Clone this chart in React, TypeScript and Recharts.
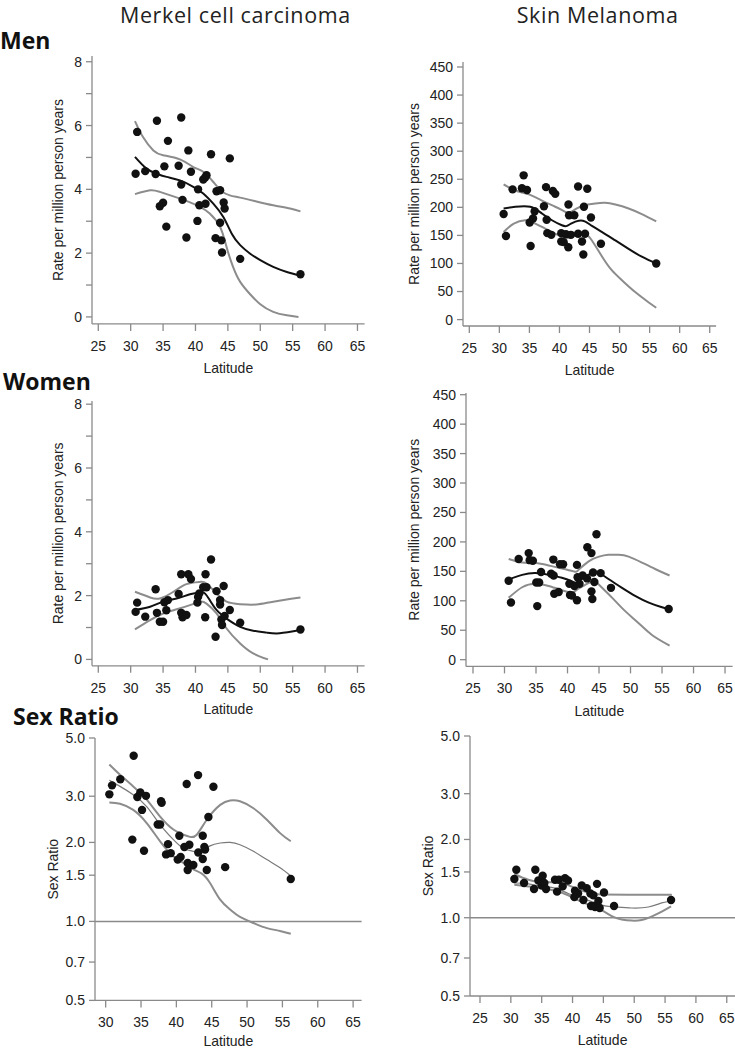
import React from 'react';
import { ComposedChart, Line, Scatter, XAxis, YAxis, ReferenceLine } from 'recharts';

type Pair = [number, number];

// ---------- Column / row titles ----------
const columnTitles = ['Merkel cell carcinoma', 'Skin Melanoma'];
const rowTitles = ['Men', 'Women', 'Sex Ratio'];
const rateLabel = 'Rate per million person years';
const ratioLabel = 'Sex Ratio';
const xLabel = 'Latitude';

// ---------- Tick values ----------
const latTicks = [25, 30, 35, 40, 45, 50, 55, 60, 65];
const latTicksRatio = [30, 35, 40, 45, 50, 55, 60, 65];
const mccRateTicks = [0, 1, 2, 3, 4, 5, 6, 7, 8];
const melRateTicks = [0, 50, 100, 150, 200, 250, 300, 350, 400, 450];
const ratioTicks = [0.5, 0.7, 1.0, 1.5, 2.0, 3.0, 5.0];

// ---------- Merkel cell carcinoma, men ----------
const mccMenPoints: Pair[] = [
  [30.76, 4.49], [31.0, 5.8], [32.25, 4.57], [33.85, 4.48], [34.05, 6.15], [34.5, 3.47], [35.0, 3.58],
  [35.2, 4.72], [35.5, 2.83], [35.75, 5.52], [37.4, 4.74], [37.8, 6.25], [37.8, 4.15], [38.0, 3.67],
  [38.6, 2.49], [38.9, 5.22], [39.3, 4.55], [40.3, 3.01], [40.4, 4.0], [40.6, 3.5], [41.2, 4.31],
  [41.5, 4.37], [41.7, 4.44], [41.55, 3.55], [42.4, 5.1], [43.1, 2.47], [43.25, 3.94], [43.8, 3.97],
  [43.8, 2.95], [44.0, 2.4], [44.1, 2.02], [44.35, 3.59], [44.5, 3.4], [45.3, 4.97], [46.9, 1.82], [56.2, 1.34],
];
const mccMenFit: Pair[] = [
  [30.66, 5.02], [32.46, 4.65], [34.0, 4.49], [35.55, 4.39], [37.6, 4.28], [39.66, 4.08], [41.2, 3.87],
  [42.75, 3.55], [44.3, 3.13], [45.6, 2.61], [46.9, 2.25], [48.4, 1.99], [50.0, 1.78], [52.0, 1.57],
  [54.1, 1.41], [56.1, 1.3],
];
const mccMenUpper: Pair[] = [
  [30.66, 6.14], [31.9, 5.64], [33.5, 5.22], [35.0, 5.07], [37.6, 4.94], [39.66, 4.7], [41.2, 4.55],
  [42.75, 4.23], [44.0, 3.95], [45.3, 3.81], [46.9, 3.74], [49.4, 3.62], [52.0, 3.5], [54.6, 3.4], [56.2, 3.31],
];
const mccMenLower: Pair[] = [
  [30.66, 3.85], [33.0, 3.97], [34.5, 3.92], [36.6, 3.78], [38.6, 3.64], [40.7, 3.45], [42.2, 3.24],
  [43.8, 2.82], [44.8, 2.19], [45.8, 1.57], [46.9, 1.1], [48.4, 0.72], [50.0, 0.4], [52.0, 0.16],
  [54.1, 0.05], [55.9, 0.0],
];

// ---------- Skin melanoma, men ----------
const melMenPoints: Pair[] = [
  [30.71, 188], [31.1, 149], [32.2, 232], [33.76, 234], [34.04, 257], [34.6, 231], [35.04, 173], [35.2, 131],
  [35.6, 180], [35.87, 193], [37.42, 202], [37.76, 236], [37.87, 178], [37.98, 154], [38.64, 151], [38.9, 229],
  [39.3, 224], [40.3, 154], [40.3, 139], [40.7, 138], [41.08, 152], [41.47, 129], [41.5, 205], [41.6, 186],
  [41.9, 151], [42.47, 186], [43.1, 237], [43.1, 153], [43.75, 139], [43.97, 116], [44.07, 201], [44.25, 153],
  [44.63, 233], [45.24, 182], [46.9, 135], [56.1, 100],
];
const melMenFit: Pair[] = [
  [30.71, 198], [32.65, 201], [35.15, 201], [37.09, 189], [38.75, 177], [40.4, 168], [41.25, 167], [42.1, 172],
  [43.2, 176], [44.2, 175], [45.4, 167], [47.1, 156], [49.3, 141], [51.5, 126], [53.7, 112], [56.1, 100],
];
const melMenUpper: Pair[] = [
  [30.71, 241], [32.65, 230], [34.9, 223], [37.09, 212], [39.3, 201], [40.97, 192], [41.8, 191], [42.9, 198],
  [44.3, 204], [45.97, 207], [47.6, 208], [49.3, 205], [51.5, 198], [53.7, 188], [56.1, 175],
];
const melMenLower: Pair[] = [
  [30.71, 156], [32.4, 171], [34.3, 177], [35.4, 174], [37.09, 165], [38.75, 156], [40.4, 148], [41.5, 146],
  [42.9, 150], [44.2, 153], [45.4, 141], [47.1, 112], [48.7, 88], [50.4, 70], [52.6, 49], [54.8, 31], [56.1, 21],
];

// ---------- Merkel cell carcinoma, women ----------
const mccWomenPoints: Pair[] = [
  [30.76, 1.49], [31.0, 1.78], [32.25, 1.34], [33.85, 2.2], [34.05, 1.46], [34.5, 1.18], [35.0, 1.18],
  [35.2, 1.79], [35.5, 1.54], [35.75, 1.86], [37.4, 2.05], [37.8, 2.67], [37.8, 1.46], [38.0, 1.32],
  [38.6, 1.39], [38.9, 2.67], [39.3, 2.52], [40.3, 1.78], [40.4, 1.96], [40.6, 2.07], [41.2, 2.26],
  [41.5, 1.32], [41.55, 2.67], [41.7, 2.26], [42.4, 3.13], [43.1, 0.71], [43.25, 2.14], [43.8, 1.86],
  [43.8, 1.72], [44.0, 1.25], [44.1, 1.08], [44.35, 2.3], [44.5, 1.36], [45.3, 1.55], [46.9, 1.15], [56.2, 0.94],
];
const mccWomenFit: Pair[] = [
  [30.66, 1.55], [33.0, 1.65], [35.0, 1.81], [37.1, 1.91], [39.15, 2.04], [40.7, 2.1], [41.45, 2.07],
  [42.2, 1.86], [43.25, 1.55], [44.8, 1.28], [46.9, 1.02], [48.9, 0.9], [51.0, 0.84], [53.0, 0.82], [56.2, 0.92],
];
const mccWomenUpper: Pair[] = [
  [30.66, 2.12], [33.0, 1.94], [34.5, 1.91], [36.6, 2.12], [38.6, 2.36], [40.7, 2.43], [41.7, 2.38],
  [43.25, 2.07], [44.8, 1.81], [46.9, 1.73], [49.4, 1.72], [52.0, 1.81], [56.2, 1.94],
];
const mccWomenLower: Pair[] = [
  [30.66, 0.94], [33.0, 1.23], [35.0, 1.44], [37.1, 1.57], [39.15, 1.7], [40.7, 1.81], [41.7, 1.75],
  [43.25, 1.44], [44.8, 0.97], [46.9, 0.5], [48.9, 0.19], [51.2, 0.0],
];

// ---------- Skin melanoma, women ----------
const melWomenPoints: Pair[] = [
  [30.66, 134], [31.03, 97], [32.25, 171], [33.84, 181], [34.0, 169], [34.5, 168], [35.05, 131], [35.2, 91],
  [35.5, 131], [35.8, 149], [37.4, 146], [37.75, 170], [37.8, 143], [37.9, 112], [38.6, 115], [38.8, 162],
  [39.3, 162], [40.3, 129], [40.4, 110], [40.7, 109], [41.1, 125], [41.5, 161], [41.5, 101], [41.6, 140],
  [41.9, 129], [42.4, 143], [43.1, 138], [43.15, 191], [43.8, 181], [43.8, 116], [43.94, 103], [44.05, 148],
  [44.26, 132], [44.6, 213], [45.26, 147], [46.9, 122], [56.06, 86],
];
const melWomenFit: Pair[] = [
  [30.66, 136], [32.8, 144], [34.9, 147], [37.0, 144], [39.1, 139], [40.7, 133], [41.5, 131], [42.6, 140],
  [43.9, 147], [45.0, 147], [46.5, 137], [48.65, 122], [50.8, 108], [52.9, 97], [55.0, 89], [56.06, 86],
];
const melWomenUpper: Pair[] = [
  [30.66, 171], [32.8, 165], [34.9, 164], [37.0, 160], [39.1, 155], [40.98, 150], [41.7, 152], [43.36, 167],
  [45.0, 175], [46.5, 178], [48.1, 178], [49.7, 175], [51.8, 165], [53.9, 154], [56.2, 143],
];
const melWomenLower: Pair[] = [
  [30.66, 105], [32.8, 123], [34.9, 129], [37.0, 125], [39.1, 118], [40.7, 114], [41.5, 119], [42.8, 127],
  [44.15, 133], [45.2, 125], [47.1, 105], [49.2, 82], [51.3, 62], [53.4, 42], [56.2, 24],
];

// ---------- Merkel cell carcinoma, sex ratio ----------
const mccRatioPoints: Pair[] = [
  [30.52, 3.05], [30.9, 3.3], [32.07, 3.48], [33.77, 2.05], [33.96, 4.28], [34.48, 2.98], [34.9, 3.1],
  [35.14, 2.66], [35.42, 1.86], [35.7, 3.01], [37.36, 2.34], [37.7, 2.34], [37.83, 2.87], [37.92, 2.83],
  [38.54, 1.8], [38.82, 1.97], [39.2, 1.82], [40.19, 1.72], [40.42, 2.12], [40.6, 1.76], [41.13, 1.92],
  [41.46, 3.34], [41.6, 1.67], [41.6, 1.57], [41.84, 1.96], [42.4, 1.64], [43.07, 3.61], [43.1, 1.83],
  [43.73, 2.12], [43.73, 1.73], [43.96, 1.92], [44.06, 1.88], [44.3, 1.57], [44.53, 2.5], [45.24, 3.26],
  [46.9, 1.61], [56.18, 1.45],
];
const mccRatioFit: Pair[] = [
  [30.52, 3.45], [32.03, 3.27], [33.9, 3.04], [35.8, 2.74], [37.7, 2.34], [39.58, 2.05], [41.0, 1.9],
  [42.4, 1.85], [43.6, 1.85], [44.76, 1.94], [46.2, 1.99], [47.6, 2.0], [49.0, 1.96], [50.9, 1.85],
  [52.8, 1.72], [54.67, 1.6], [56.18, 1.49],
];
const mccRatioUpper: Pair[] = [
  [30.52, 3.96], [32.03, 3.62], [33.9, 3.27], [35.8, 2.91], [37.7, 2.51], [39.58, 2.24], [41.0, 2.14],
  [41.93, 2.1], [42.88, 2.14], [44.3, 2.44], [46.2, 2.78], [47.6, 2.89], [49.0, 2.87], [50.9, 2.7],
  [52.8, 2.44], [54.67, 2.17], [56.18, 2.02],
];
const mccRatioLower: Pair[] = [
  [30.52, 2.84], [32.03, 2.81], [33.9, 2.66], [35.8, 2.37], [37.7, 2.02], [39.58, 1.77], [41.0, 1.67],
  [42.4, 1.58], [43.6, 1.52], [44.76, 1.4], [46.2, 1.21], [47.6, 1.11], [49.0, 1.04], [50.9, 0.986],
  [52.8, 0.943], [54.67, 0.92], [56.18, 0.897],
];

// ---------- Skin melanoma, sex ratio ----------
const melRatioPoints: Pair[] = [
  [30.57, 1.41], [30.89, 1.53], [32.14, 1.36], [33.76, 1.29], [33.97, 1.53], [34.46, 1.39], [35.0, 1.33],
  [35.16, 1.45], [35.43, 1.36], [35.7, 1.29], [37.16, 1.4], [37.49, 1.26], [37.8, 1.4], [38.4, 1.32],
  [38.78, 1.42], [39.27, 1.39], [40.3, 1.2], [40.4, 1.27], [40.9, 1.24], [41.49, 1.33], [41.76, 1.17],
  [42.3, 1.3], [42.9, 1.24], [43.0, 1.11], [43.38, 1.22], [43.49, 1.11], [43.65, 1.1], [43.97, 1.35],
  [44.19, 1.16], [44.4, 1.09], [45.1, 1.25], [46.73, 1.11], [55.97, 1.17],
];
const melRatioFit: Pair[] = [
  [30.57, 1.36], [32.84, 1.35], [35.0, 1.32], [37.16, 1.3], [39.3, 1.24], [41.49, 1.19], [43.65, 1.14],
  [45.27, 1.11], [46.9, 1.1], [49.6, 1.09], [52.3, 1.1], [54.46, 1.14], [55.97, 1.16],
];
const melRatioUpper: Pair[] = [
  [30.57, 1.47], [32.84, 1.4], [35.0, 1.37], [37.16, 1.37], [38.78, 1.35], [40.4, 1.3], [42.0, 1.26],
  [43.65, 1.235], [44.73, 1.228], [49.05, 1.227], [56.1, 1.227],
];
const melRatioLower: Pair[] = [
  [30.57, 1.34], [32.84, 1.32], [35.0, 1.3], [37.16, 1.27], [39.3, 1.22], [41.49, 1.15], [43.65, 1.1],
  [44.73, 1.07], [46.35, 1.015], [47.97, 0.985], [49.6, 0.975], [51.2, 0.98], [52.8, 1.01], [54.46, 1.055],
  [55.97, 1.105],
];

// ---------- styles ----------
const AXIS = '#8a8a8a';
const TEXT = '#222';
const INK = '#111';
const BAND = '#8c8c8c';
const FONT = '"Liberation Sans", Arial, sans-serif';
const TITLE_FONT = '"Open Sans", "Noto Sans", sans-serif';

const toXY = (a: Pair[]) => a.map(([x, y]) => ({ x, y }));

type Rect = { l: number; r: number; t: number; b: number };

type PanelProps = {
  plot: Rect;
  xDomain: [number, number];
  xTicks: number[];
  yDomain: [number, number];
  yTicks: number[];
  log?: boolean;
  yFmt: (v: number) => string;
  points: Pair[];
  fit: Pair[];
  upper: Pair[];
  lower: Pair[];
  yLabel: string;
  yLabelX: number;
  latBaseline: number;
  ratio?: boolean;
};

const YW = 60;
const MT = 10;
const MR = 10;
const XH = 60;

function Dot(props: any) {
  const { cx, cy } = props;
  if (cx == null || cy == null) return null;
  return <circle cx={cx} cy={cy} r={4.2} fill={INK} />;
}

function Panel(p: PanelProps) {
  const pw = p.plot.r - p.plot.l;
  const ph = p.plot.b - p.plot.t;
  const left = p.plot.l - YW;
  const top = p.plot.t - MT;
  const tickStyle = { fill: TEXT, fontSize: 14, fontFamily: FONT };
  return (
    <div style={{ position: 'absolute', left, top }}>
      <ComposedChart
        width={pw + YW + MR}
        height={ph + MT + XH}
        margin={{ top: MT, right: MR, left: 0, bottom: 0 }}
      >
        <XAxis
          type="number"
          dataKey="x"
          domain={p.xDomain}
          ticks={p.xTicks}
          interval={0}
          allowDataOverflow
          height={XH}
          tickSize={7}
          tickMargin={10}
          stroke={AXIS}
          strokeWidth={1.3}
          tick={tickStyle}
          label={{
            value: xLabel,
            position: 'insideBottom',
            offset: p.plot.b + XH - p.latBaseline,
            style: { fill: TEXT, fontSize: 14, fontFamily: FONT },
          }}
        />
        <YAxis
          type="number"
          dataKey="y"
          scale={p.log ? 'log' : 'linear'}
          domain={p.yDomain}
          ticks={p.yTicks}
          interval={0}
          allowDataOverflow
          width={YW}
          tickSize={6}
          tickMargin={4}
          stroke={AXIS}
          strokeWidth={1.3}
          tick={tickStyle}
          tickFormatter={p.yFmt}
          label={{
            value: p.yLabel,
            angle: -90,
            position: 'insideLeft',
            offset: p.yLabelX - left,
            style: { textAnchor: 'middle', fill: TEXT, fontSize: 14, fontFamily: FONT },
          }}
        />
        {p.ratio && <ReferenceLine y={1} stroke={AXIS} strokeWidth={1.5} />}
        <Line
          data={toXY(p.upper)}
          dataKey="y"
          type="natural"
          stroke={BAND}
          strokeWidth={2}
          dot={false}
          activeDot={false}
          isAnimationActive={false}
        />
        <Line
          data={toXY(p.lower)}
          dataKey="y"
          type="natural"
          stroke={BAND}
          strokeWidth={2}
          dot={false}
          activeDot={false}
          isAnimationActive={false}
        />
        <Line
          data={toXY(p.fit)}
          dataKey="y"
          type="natural"
          stroke={p.ratio ? '#7a7a7a' : INK}
          strokeWidth={p.ratio ? 1.2 : 2}
          dot={false}
          activeDot={false}
          isAnimationActive={false}
        />
        <Scatter data={toXY(p.points)} shape={<Dot />} isAnimationActive={false} />
      </ComposedChart>
    </div>
  );
}

const evenOnly = (v: number) => (v % 2 === 0 ? String(v) : '');
const plain = (v: number) => String(v);
const oneDec = (v: number) => v.toFixed(1);

export default function App() {
  return (
    <div
      style={{
        position: 'absolute',
        left: 0,
        top: 0,
        width: 735,
        height: 1050,
        overflow: 'hidden',
        background: '#fff',
      }}
    >
      <svg width={735} height={1050} style={{ position: 'absolute', left: 0, top: 0 }}>
        <text x={120} y={23.2} fontFamily={TITLE_FONT} fontSize={21.5} letterSpacing={0.6} fill={TEXT}>
          {columnTitles[0]}
        </text>
        <text x={516.7} y={23.2} fontFamily={TITLE_FONT} fontSize={21.5} letterSpacing={0.6} fill={TEXT}>
          {columnTitles[1]}
        </text>
        <text x={0} y={49} fontFamily={TITLE_FONT} fontWeight={700} fontSize={23} fill={INK}>
          {rowTitles[0]}
        </text>
        <text x={3} y={390} fontFamily={TITLE_FONT} fontWeight={700} fontSize={23} fill={INK}>
          {rowTitles[1]}
        </text>
        <text x={13} y={725} fontFamily={TITLE_FONT} fontWeight={700} fontSize={23} fill={INK}>
          {rowTitles[2]}
        </text>
      </svg>

      <Panel
        plot={{ l: 92.0, r: 364.6, t: 55.75, b: 323.7 }}
        xDomain={[24.03, 66.1]}
        xTicks={latTicks}
        yDomain={[-0.22, 8.18]}
        yTicks={mccRateTicks}
        yFmt={evenOnly}
        points={mccMenPoints}
        fit={mccMenFit}
        upper={mccMenUpper}
        lower={mccMenLower}
        yLabel={rateLabel}
        yLabelX={57.7}
        latBaseline={373}
      />
      <Panel
        plot={{ l: 462.7, r: 715.8, t: 61.7, b: 325.7 }}
        xDomain={[23.95, 66.06]}
        xTicks={latTicks}
        yDomain={[-11.4, 458.9]}
        yTicks={melRateTicks}
        yFmt={plain}
        points={melMenPoints}
        fit={melMenFit}
        upper={melMenUpper}
        lower={melMenLower}
        yLabel={rateLabel}
        yLabelX={413.3}
        latBaseline={375}
      />
      <Panel
        plot={{ l: 92.0, r: 364.6, t: 400.9, b: 665.7 }}
        xDomain={[24.03, 66.1]}
        xTicks={latTicks}
        yDomain={[-0.2, 8.1]}
        yTicks={mccRateTicks}
        yFmt={evenOnly}
        points={mccWomenPoints}
        fit={mccWomenFit}
        upper={mccWomenUpper}
        lower={mccWomenLower}
        yLabel={rateLabel}
        yLabelX={58}
        latBaseline={714}
      />
      <Panel
        plot={{ l: 465.7, r: 732.3, t: 393.3, b: 666.7 }}
        xDomain={[23.89, 66.2]}
        xTicks={latTicks}
        yDomain={[-11.4, 452.9]}
        yTicks={melRateTicks}
        yFmt={plain}
        points={melWomenPoints}
        fit={melWomenFit}
        upper={melWomenUpper}
        lower={melWomenLower}
        yLabel={rateLabel}
        yLabelX={413.3}
        latBaseline={716.7}
      />
      <Panel
        plot={{ l: 95, r: 361.6, t: 738.3, b: 1000.7 }}
        xDomain={[28.49, 66.2]}
        xTicks={latTicksRatio}
        yDomain={[0.5, 5]}
        yTicks={ratioTicks}
        log
        yFmt={oneDec}
        points={mccRatioPoints}
        fit={mccRatioFit}
        upper={mccRatioUpper}
        lower={mccRatioLower}
        yLabel={ratioLabel}
        yLabelX={53.3}
        latBaseline={1046.5}
        ratio
      />
      <Panel
        plot={{ l: 470, r: 735.1, t: 736, b: 996 }}
        xDomain={[23.38, 66.35]}
        xTicks={latTicks}
        yDomain={[0.5, 5]}
        yTicks={ratioTicks}
        log
        yFmt={oneDec}
        points={melRatioPoints}
        fit={melRatioFit}
        upper={melRatioUpper}
        lower={melRatioLower}
        yLabel={ratioLabel}
        yLabelX={428.3}
        latBaseline={1045}
        ratio
      />
    </div>
  );
}
